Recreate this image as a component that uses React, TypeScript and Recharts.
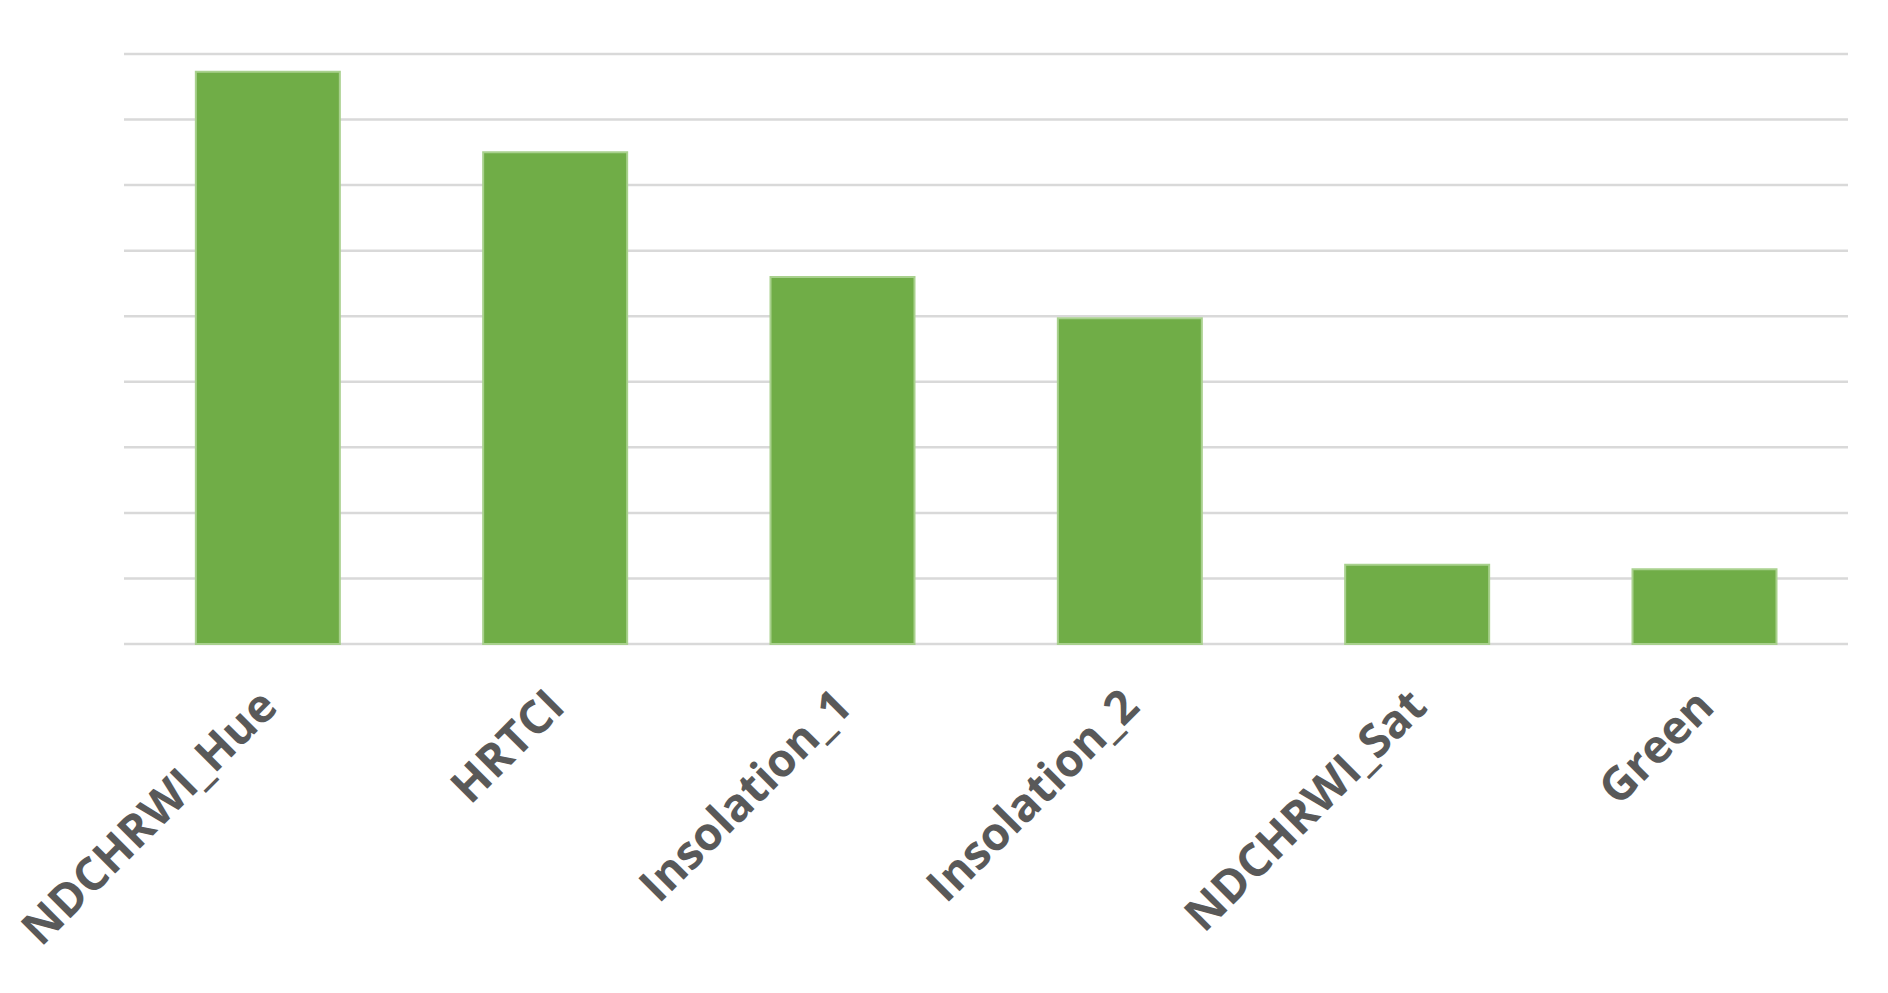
import React from 'react';
import { BarChart, Bar, XAxis, YAxis, CartesianGrid } from 'recharts';

const categories = ['NDCHRWI_Hue', 'HRTCI', 'Insolation_1', 'Insolation_2', 'NDCHRWI_Sat', 'Green'];
const importance = [8.73, 7.5, 5.6, 4.97, 1.21, 1.14];
const yTicks = [0, 1, 2, 3, 4, 5, 6, 7, 8, 9];

const data = categories.map((name, i) => ({ name, value: importance[i] }));

const AngledTick = (props: any) => {
  const { x, y, payload } = props;
  return (
    <g transform={`translate(${x + 12},${y + 65})`}>
      <text
        x={0}
        y={0}
        textAnchor="end"
        transform="rotate(-45)"
        fill="#595959"
        fontFamily="'Open Sans', sans-serif"
        fontWeight={700}
        fontSize={46}
      >
        {payload.value}
      </text>
    </g>
  );
};

export default function App() {
  return (
    <div style={{ position: 'absolute', left: 0, top: 0, width: 1888, height: 993, background: '#fff' }}>
      <BarChart
        width={1888}
        height={993}
        data={data}
        margin={{ top: 54, right: 40, bottom: 0, left: 124 }}
        barCategoryGap="25%"
      >
        <CartesianGrid vertical={false} stroke="#d9d9d9" strokeWidth={2.5} />
        <YAxis hide domain={[0, 9]} ticks={yTicks} type="number" />
        <XAxis
          dataKey="name"
          axisLine={false}
          tickLine={false}
          tickSize={0}
          tickMargin={0}
          height={349}
          interval={0}
          tick={<AngledTick />}
        />
        <Bar dataKey="value" fill="#70ad47" stroke="#a9d18e" strokeWidth={2} isAnimationActive={false} />
      </BarChart>
    </div>
  );
}
